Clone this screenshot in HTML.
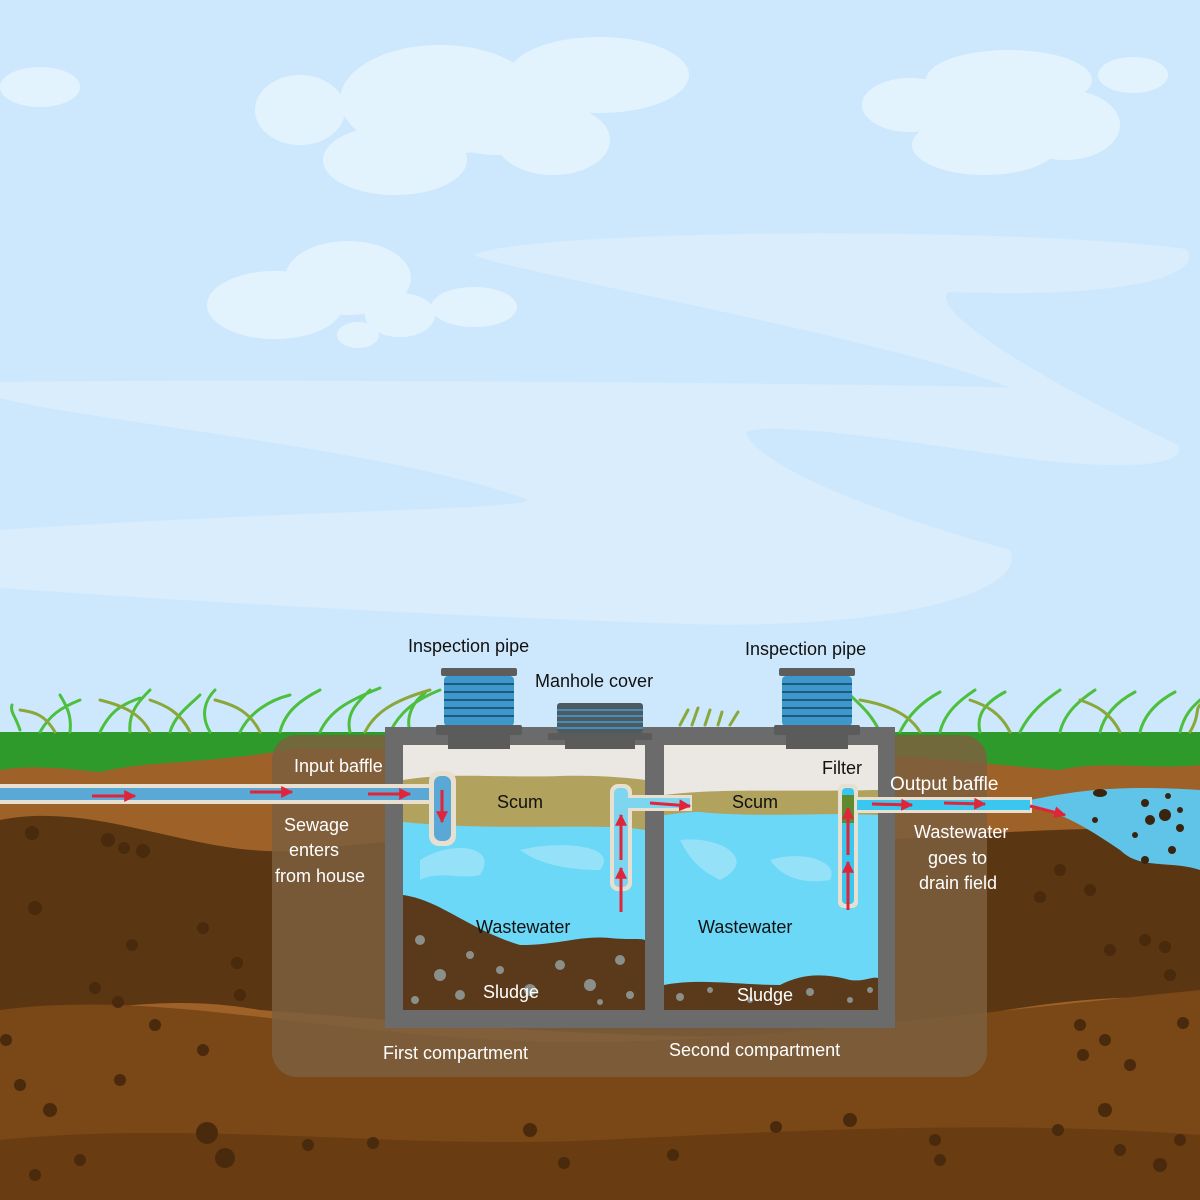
<!DOCTYPE html>
<html><head><meta charset="utf-8"><style>
html,body{margin:0;padding:0;background:#cde8fd}
svg{display:block}
text{font-family:"Liberation Sans",sans-serif}
</style></head><body>
<svg width="1200" height="1200" viewBox="0 0 1200 1200" xmlns="http://www.w3.org/2000/svg">
<defs>
<marker id="ar" viewBox="0 0 10 10" refX="9" refY="5" markerWidth="4" markerHeight="4" orient="auto"><path d="M0,0 L10,5 L0,10 z" fill="#e0243a"/></marker>
</defs>
<rect width="1200" height="1200" fill="#cde8fd"/>
<path d="M474,255 C520,230 1000,225 1186,249 C1200,262 1180,300 949,292 C930,305 1000,360 1178,445 C1190,470 1100,470 1000,455 C900,440 760,420 746,433 C760,470 900,520 1010,550 C1030,590 900,630 689,624 C400,615 100,595 0,588 L0,530 C300,510 520,510 528,500 C400,450 80,420 0,398 L0,382 C300,378 1000,385 1010,388 C900,340 500,270 474,255 Z" fill="#d9edfd"/>
<g fill="#e3f3fe">
<ellipse cx="40" cy="87" rx="40" ry="20"/>
<ellipse cx="300" cy="110" rx="45" ry="35"/>
<ellipse cx="440" cy="100" rx="100" ry="55"/>
<ellipse cx="599" cy="75" rx="90" ry="38"/>
<ellipse cx="395" cy="160" rx="72" ry="35"/>
<ellipse cx="553" cy="140" rx="57" ry="35"/>
<ellipse cx="500" cy="115" rx="80" ry="40"/>
<ellipse cx="1009" cy="80" rx="83" ry="30"/>
<ellipse cx="910" cy="105" rx="48" ry="27"/>
<ellipse cx="1065" cy="125" rx="55" ry="35"/>
<ellipse cx="985" cy="145" rx="73" ry="30"/>
<ellipse cx="990" cy="115" rx="80" ry="35"/>
<ellipse cx="1133" cy="75" rx="35" ry="18"/>
<ellipse cx="275" cy="305" rx="68" ry="34"/>
<ellipse cx="348" cy="278" rx="63" ry="37"/>
<ellipse cx="400" cy="315" rx="35" ry="22"/>
<ellipse cx="474" cy="307" rx="43" ry="20"/>
<ellipse cx="358" cy="335" rx="21" ry="13"/>
</g>
<rect x="0" y="740" width="1200" height="460" fill="#9e6128"/>
<path d="M0,820 C100,800 200,860 300,850 C400,840 500,830 600,840 C800,860 1000,820 1200,830 L1200,1000 C1100,990 1000,1010 900,1030 C700,1050 400,1020 260,1010 C150,990 80,1020 0,1010 Z" fill="#5b3612"/>
<path d="M0,1010 C150,990 300,1030 500,1040 C700,1050 900,1020 1200,990 L1200,1200 L0,1200 Z" fill="#7a4716"/>
<path d="M0,1140 C200,1120 400,1150 600,1140 C800,1130 1000,1120 1200,1135 L1200,1200 L0,1200 Z" fill="#6a3c12"/>
<g fill="#4a2a0c">
<circle cx="32" cy="833" r="7"/><circle cx="108" cy="840" r="7"/><circle cx="124" cy="848" r="6"/><circle cx="143" cy="851" r="7"/>
<circle cx="35" cy="908" r="7"/><circle cx="203" cy="928" r="6"/><circle cx="132" cy="945" r="6"/><circle cx="237" cy="963" r="6"/>
<circle cx="95" cy="988" r="6"/><circle cx="118" cy="1002" r="6"/><circle cx="155" cy="1025" r="6"/><circle cx="240" cy="995" r="6"/>
<circle cx="6" cy="1040" r="6"/><circle cx="203" cy="1050" r="6"/><circle cx="120" cy="1080" r="6"/><circle cx="50" cy="1110" r="7"/>
<circle cx="207" cy="1133" r="11"/><circle cx="225" cy="1158" r="10"/><circle cx="308" cy="1145" r="6"/><circle cx="373" cy="1143" r="6"/>
<circle cx="530" cy="1130" r="7"/><circle cx="564" cy="1163" r="6"/><circle cx="673" cy="1155" r="6"/><circle cx="776" cy="1127" r="6"/>
<circle cx="850" cy="1120" r="7"/><circle cx="935" cy="1140" r="6"/><circle cx="940" cy="1160" r="6"/><circle cx="1058" cy="1130" r="6"/>
<circle cx="1105" cy="1110" r="7"/><circle cx="1120" cy="1150" r="6"/><circle cx="1160" cy="1165" r="7"/><circle cx="1180" cy="1140" r="6"/>
<circle cx="1040" cy="897" r="6"/><circle cx="1090" cy="890" r="6"/><circle cx="1145" cy="940" r="6"/><circle cx="1110" cy="950" r="6"/>
<circle cx="1165" cy="947" r="6"/><circle cx="1080" cy="1025" r="6"/><circle cx="1105" cy="1040" r="6"/><circle cx="1130" cy="1065" r="6"/>
<circle cx="1083" cy="1055" r="6"/><circle cx="1183" cy="1023" r="6"/><circle cx="1170" cy="975" r="6"/><circle cx="1060" cy="870" r="6"/>
<circle cx="80" cy="1160" r="6"/><circle cx="35" cy="1175" r="6"/><circle cx="20" cy="1085" r="6"/>
</g>
<path d="M1030,800 C1080,790 1120,785 1200,790 L1200,870 C1170,860 1140,870 1120,850 C1090,830 1060,810 1030,808 Z" fill="#5fc4e7"/>
<g fill="#3a2410"><ellipse cx="1100" cy="793" rx="7" ry="4"/><circle cx="1168" cy="796" r="3"/><circle cx="1145" cy="803" r="4"/><circle cx="1165" cy="815" r="6"/><circle cx="1150" cy="820" r="5"/><circle cx="1095" cy="820" r="3"/><circle cx="1180" cy="810" r="3"/><circle cx="1180" cy="828" r="4"/><circle cx="1135" cy="835" r="3"/><circle cx="1172" cy="850" r="4"/><circle cx="1145" cy="860" r="4"/></g>
<path d="M0,732 L1200,732 L1200,765 C1150,770 1100,760 1060,770 C1000,765 950,760 890,755 L300,748 C200,765 150,760 100,772 C60,768 30,765 0,770 Z" fill="#2f9a2c"/>
<g stroke-width="3" fill="none" stroke-linecap="round">
<path d="M20,730 C15,715 10,712 12,705 M40,732 C50,715 60,708 80,700 M70,732 C72,715 66,705 60,695 M100,732 C110,712 120,705 140,698 M130,732 C128,712 140,700 150,690 M170,732 C175,715 190,705 200,695 M210,732 C200,715 205,700 215,690 M240,732 C250,712 270,700 290,695 M280,732 C285,712 300,700 320,690 M320,732 C330,710 350,700 380,688 M350,732 C345,712 360,700 370,690 M390,732 C400,712 415,700 440,690 M410,732 C405,715 415,700 425,693" stroke="#4cbf3c"/>
<path d="M55,732 C45,715 35,712 20,710 M150,732 C140,712 120,705 100,700 M260,732 C250,712 235,705 215,700 M365,732 C375,712 395,700 430,690 M190,732 C180,712 165,705 150,700" stroke="#8aa83a"/>
<path d="M880,732 C870,712 860,705 850,695 M900,732 C910,712 925,700 940,692 M940,732 C945,712 960,700 975,690 M980,732 C975,712 990,700 1005,692 M1020,732 C1030,712 1045,700 1060,690 M1060,732 C1065,712 1080,700 1095,690 M1100,732 C1105,712 1120,700 1135,692 M1140,732 C1145,712 1160,700 1175,692 M1180,732 C1185,712 1195,705 1200,700" stroke="#4cbf3c"/>
<path d="M920,732 C910,715 890,705 860,700 M1010,732 C1000,712 985,705 970,700 M1120,732 C1110,712 1095,705 1080,700 M1190,732 C1200,715 1195,710 1200,705" stroke="#8aa83a"/>
<path d="M680,725 L688,710 M692,725 L698,708 M705,725 L710,710 M718,725 L722,712 M730,725 L738,712" stroke="#8aa83a"/>
</g>
<rect x="272" y="735" width="715" height="342" rx="25" fill="#7d5f3e" fill-opacity="0.85"/>
<rect x="385" y="727" width="510" height="301" fill="#6b6b6b"/>
<rect x="403" y="745" width="242" height="265" fill="#6bd8f7"/>
<rect x="664" y="745" width="214" height="265" fill="#6bd8f7"/>
<rect x="403" y="745" width="242" height="35" fill="#ebe8e3"/>
<rect x="664" y="745" width="214" height="50" fill="#ebe8e3"/>
<path d="M403,780 C450,772 500,778 560,776 C600,775 630,778 645,780 L645,830 C600,822 500,832 403,822 Z" fill="#b1a35d"/>
<path d="M664,795 C720,788 780,792 878,790 L878,815 C820,812 760,818 700,812 C680,812 670,815 664,815 Z" fill="#b1a35d"/>
<g fill="#9fe3f8" opacity="0.8"><path d="M420,860 C450,840 500,845 480,875 C460,880 440,870 420,880 Z"/><path d="M520,850 C560,840 620,845 600,870 C570,870 540,865 520,850 Z"/><path d="M680,840 C720,835 760,860 720,880 C700,870 690,860 680,840 Z"/><path d="M770,860 C800,850 840,860 830,880 C800,885 780,875 770,860 Z"/></g>
<path d="M403,895 C440,900 470,930 520,945 C560,945 580,935 610,938 C630,940 640,938 645,940 L645,1010 L403,1010 Z" fill="#5b3a1c"/>
<path d="M664,985 C700,978 740,985 780,985 C800,975 820,972 850,980 C865,982 872,976 878,978 L878,1010 L664,1010 Z" fill="#5b3a1c"/>
<g fill="#8a8f8a">
<circle cx="420" cy="940" r="5"/><circle cx="440" cy="975" r="6"/><circle cx="470" cy="955" r="4"/><circle cx="460" cy="995" r="5"/><circle cx="500" cy="970" r="4"/><circle cx="530" cy="990" r="6"/><circle cx="560" cy="965" r="5"/><circle cx="590" cy="985" r="6"/><circle cx="620" cy="960" r="5"/><circle cx="630" cy="995" r="4"/><circle cx="415" cy="1000" r="4"/><circle cx="600" cy="1002" r="3"/>
<circle cx="680" cy="997" r="4"/><circle cx="710" cy="990" r="3"/><circle cx="750" cy="1000" r="3"/><circle cx="810" cy="992" r="4"/><circle cx="850" cy="1000" r="3"/><circle cx="870" cy="990" r="3"/>
</g>
<rect x="0" y="784" width="450" height="20" fill="#e7dfcf"/>
<rect x="0" y="788" width="440" height="12" fill="#5aa8d6"/>
<rect x="429" y="771" width="27" height="75" rx="10" fill="#e7dfcf"/>
<rect x="434" y="776" width="17" height="65" rx="7" fill="#5aa8d6"/>
<g stroke="#e0243a" stroke-width="3" marker-end="url(#ar)">
<line x1="92" y1="796" x2="135" y2="796"/><line x1="250" y1="792" x2="292" y2="792"/><line x1="368" y1="794" x2="410" y2="794"/><line x1="442" y1="790" x2="442" y2="822"/>
</g>
<rect x="610" y="784" width="22" height="107" rx="8" fill="#e7dfcf"/>
<rect x="614" y="788" width="14" height="99" rx="5" fill="#7dd5f0"/>
<rect x="628" y="795" width="64" height="16" fill="#e7dfcf"/>
<rect x="626" y="798" width="64" height="10" fill="#7dd5f0"/>
<g stroke="#e0243a" stroke-width="3" marker-end="url(#ar)">
<line x1="621" y1="912" x2="621" y2="868"/><line x1="621" y1="860" x2="621" y2="815"/><line x1="650" y1="803" x2="690" y2="806"/>
</g>
<rect x="838" y="784" width="20" height="124" rx="6" fill="#e7dfcf"/>
<rect x="842" y="788" width="12" height="116" rx="4" fill="#39c6ef"/>
<rect x="842" y="795" width="12" height="28" fill="#5f8a30"/>
<rect x="855" y="797" width="177" height="16" fill="#e7dfcf"/>
<rect x="857" y="800" width="173" height="10" fill="#39c6ef"/>
<g stroke="#e0243a" stroke-width="3" marker-end="url(#ar)">
<line x1="848" y1="910" x2="848" y2="862"/><line x1="848" y1="855" x2="848" y2="808"/>
<line x1="872" y1="804" x2="912" y2="805"/><line x1="944" y1="803" x2="985" y2="804"/><line x1="1030" y1="806" x2="1065" y2="815"/>
</g>
<g>
<rect x="444" y="676" width="70" height="50" rx="4" fill="#3c98cb"/>
<g stroke="#1d5a7c" stroke-width="2"><line x1="444" y1="684" x2="514" y2="684"/><line x1="444" y1="692" x2="514" y2="692"/><line x1="444" y1="700" x2="514" y2="700"/><line x1="444" y1="708" x2="514" y2="708"/><line x1="444" y1="716" x2="514" y2="716"/></g>
<rect x="441" y="668" width="76" height="8" rx="2" fill="#5d5d5d"/>
<rect x="436" y="725" width="86" height="10" rx="2" fill="#5b5b5b"/>
<rect x="448" y="733" width="62" height="16" fill="#5b5b5b"/>
</g>
<g>
<rect x="782" y="676" width="70" height="50" rx="4" fill="#3c98cb"/>
<g stroke="#1d5a7c" stroke-width="2"><line x1="782" y1="684" x2="852" y2="684"/><line x1="782" y1="692" x2="852" y2="692"/><line x1="782" y1="700" x2="852" y2="700"/><line x1="782" y1="708" x2="852" y2="708"/><line x1="782" y1="716" x2="852" y2="716"/></g>
<rect x="779" y="668" width="76" height="8" rx="2" fill="#5d5d5d"/>
<rect x="774" y="725" width="86" height="10" rx="2" fill="#5b5b5b"/>
<rect x="786" y="733" width="62" height="16" fill="#5b5b5b"/>
</g>
<g>
<rect x="557" y="703" width="86" height="30" rx="3" fill="#4e5a60"/>
<g stroke="#3f8fb6" stroke-width="2"><line x1="557" y1="710" x2="643" y2="710"/><line x1="557" y1="716" x2="643" y2="716"/><line x1="557" y1="722" x2="643" y2="722"/><line x1="557" y1="728" x2="643" y2="728"/></g>
<rect x="548" y="733" width="104" height="7" rx="2" fill="#5b5b5b"/>
<rect x="565" y="739" width="70" height="10" fill="#5b5b5b"/>
</g>
<g font-size="18" fill="#111">
<text x="408" y="652">Inspection pipe</text>
<text x="535" y="687">Manhole cover</text>
<text x="745" y="655">Inspection pipe</text>
<text x="497" y="808">Scum</text>
<text x="732" y="808">Scum</text>
<text x="822" y="774">Filter</text>
<text x="476" y="933">Wastewater</text>
<text x="698" y="933">Wastewater</text>
</g>
<g font-size="18" fill="#fff">
<text x="294" y="772">Input baffle</text>
<text x="284" y="831">Sewage</text>
<text x="289" y="856">enters</text>
<text x="275" y="882">from house</text>
<text x="483" y="998">Sludge</text>
<text x="737" y="1001">Sludge</text>
<text x="383" y="1059">First compartment</text>
<text x="669" y="1056">Second compartment</text>
<text x="890" y="790" font-size="19">Output baffle</text>
<text x="914" y="838">Wastewater</text>
<text x="928" y="864">goes to</text>
<text x="919" y="889">drain field</text>
</g>
</svg>
</body></html>
